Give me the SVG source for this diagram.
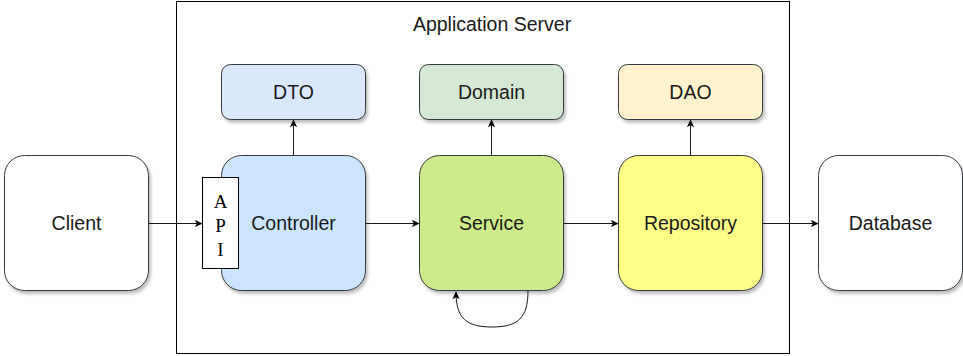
<svg xmlns="http://www.w3.org/2000/svg" width="963" height="356" viewBox="0 0 963 356">
  <style>
    .box { stroke: #36393d; stroke-width: 1; filter: url(#shadow); }
    .lbl { font-family: "Liberation Sans", Arial, Helvetica, sans-serif; font-size: 19.5px; fill: #1a1a1a; text-anchor: middle; }
    .api { font-family: "Liberation Serif", "Times New Roman", serif; font-size: 19px; fill: #000; text-anchor: middle; }
    .edge { fill: none; stroke: #1a1a1a; stroke-width: 1; }
  </style>
  <defs>
    <marker id="arrow" viewBox="0 0 10 10" refX="9" refY="5" markerWidth="8" markerHeight="8" markerUnits="userSpaceOnUse" orient="auto">
      <path d="M0,0.5 L10,5 L0,9.5 L2.5,5 Z" fill="#000"/>
    </marker>
    <filter id="shadow" x="-10%" y="-10%" width="130%" height="130%">
      <feDropShadow dx="2" dy="3" stdDeviation="1.5" flood-color="#000" flood-opacity="0.25"/>
    </filter>
  </defs>

  <rect width="963" height="356" fill="#ffffff"/>

  <!-- application server container -->
  <g id="app-server">
    <rect x="176.5" y="1.5" width="613" height="352" fill="none" stroke="#000" stroke-width="1"/>
    <text class="lbl" x="492" y="31">Application Server</text>
  </g>

  <!-- connectors -->
  <g id="connectors">
    <line class="edge" x1="149" y1="223.5" x2="202" y2="223.5" marker-end="url(#arrow)"/>
    <line class="edge" x1="366" y1="223.5" x2="419" y2="223.5" marker-end="url(#arrow)"/>
    <line class="edge" x1="564" y1="223.5" x2="618" y2="223.5" marker-end="url(#arrow)"/>
    <line class="edge" x1="763" y1="223.5" x2="818" y2="223.5" marker-end="url(#arrow)"/>
    <line class="edge" x1="293.5" y1="156" x2="293.5" y2="120" marker-end="url(#arrow)"/>
    <line class="edge" x1="491.5" y1="156" x2="491.5" y2="120" marker-end="url(#arrow)"/>
    <line class="edge" x1="690.5" y1="156" x2="690.5" y2="120" marker-end="url(#arrow)"/>
    <path class="edge" d="M528,291 C528,318 518,327 492,327 C466,327 456,318 456,292" marker-end="url(#arrow)"/>
  </g>

  <g id="client">
    <rect class="box" x="4.5" y="155.5" width="144" height="135" rx="20" fill="#ffffff"/>
    <text class="lbl" x="76.5" y="230">Client</text>
  </g>

  <g id="dto">
    <rect class="box" x="221.5" y="64.5" width="144" height="55" rx="9" fill="#dae8fc"/>
    <text class="lbl" x="293.5" y="99">DTO</text>
  </g>

  <g id="controller">
    <rect class="box" x="221.5" y="155.5" width="144" height="135" rx="20" fill="#cce5ff"/>
    <text class="lbl" x="293.5" y="230">Controller</text>
  </g>

  <g id="api">
    <rect x="202.5" y="177.5" width="36" height="91" fill="#ffffff" stroke="#000" stroke-width="1"/>
    <text class="api" x="220.5" y="208">A</text>
    <text class="api" x="220.5" y="232">P</text>
    <text class="api" x="220.5" y="256">I</text>
  </g>

  <g id="domain">
    <rect class="box" x="419.5" y="64.5" width="144" height="55" rx="9" fill="#d5e8d4"/>
    <text class="lbl" x="491.5" y="99">Domain</text>
  </g>

  <g id="service">
    <rect class="box" x="419.5" y="155.5" width="144" height="135" rx="20" fill="#cdeb8b"/>
    <text class="lbl" x="491.5" y="230">Service</text>
  </g>

  <g id="dao">
    <rect class="box" x="618.5" y="64.5" width="144" height="55" rx="9" fill="#fff2cc"/>
    <text class="lbl" x="690.5" y="99">DAO</text>
  </g>

  <g id="repository">
    <rect class="box" x="618.5" y="155.5" width="144" height="135" rx="20" fill="#ffff88"/>
    <text class="lbl" x="690.5" y="230">Repository</text>
  </g>

  <g id="database">
    <rect class="box" x="818.5" y="155.5" width="144" height="135" rx="20" fill="#ffffff"/>
    <text class="lbl" x="890.5" y="230">Database</text>
  </g>
</svg>
